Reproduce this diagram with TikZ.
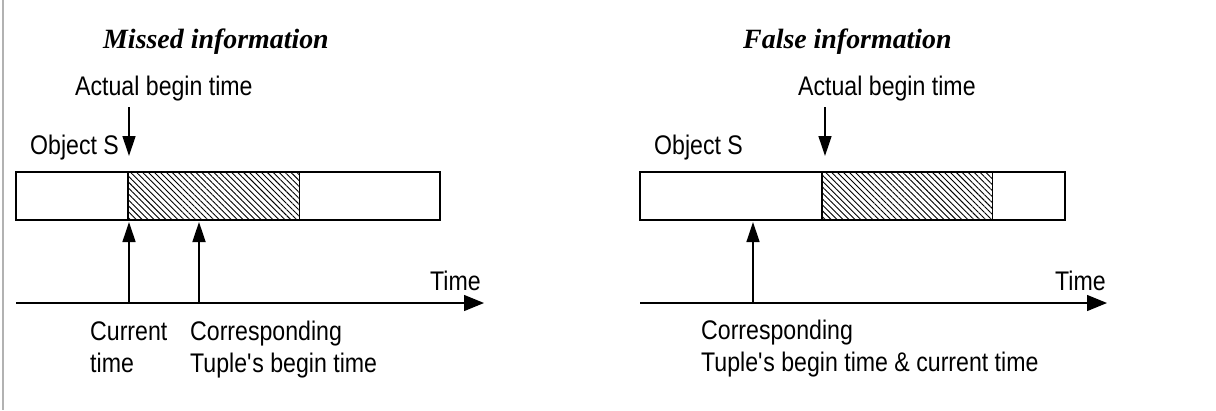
\documentclass[tikz,border=0pt]{standalone}
\usepackage{fontspec}
\setmainfont[FakeStretch=0.86]{Liberation Sans}
\newfontfamily\ttlfamily{Liberation Serif}
\usetikzlibrary{arrows.meta,patterns.meta}
\newcommand\lblfont{\fontsize{27}{32}\selectfont}
\newcommand\ttlfont{\ttlfamily\bfseries\itshape\fontsize{28}{32}\selectfont}

\begin{document}
\begin{tikzpicture}[x=1bp,y=-1bp,>={Triangle[length=20bp,width=13bp]},
  every node/.style={font=\lblfont,inner sep=0pt},
  ttl/.style={font=\ttlfont,anchor=base west},
  lbl/.style={anchor=base west,align=left},
  barline/.style={line width=1.6bp},
  arr/.style={->,line width=1.3bp},
  hatch/.style={pattern={Lines[angle=-45,distance=4.2bp,line width=0.9bp]}}]
\useasboundingbox (0,0) rectangle (1216,410);
\draw[gray!60,line width=1.5bp] (3,0) -- (3,410);

% Missed information
\node[ttl] (ttlA) at (103,48) {Missed information};
\node[lbl] (actA) at (75,95) {Actual begin time};
\node[lbl] (objA) at (30,154) {Object S};
\fill[hatch] (128,172) rectangle (299,220);
\draw[line width=0.8bp] (299,172) -- (299,220);
\draw[barline] (16,172) rectangle (440,220);
\draw[line width=2.2bp] (128,172) -- (128,220);
\coordinate (dA) at (129,107);
\coordinate (dAe) at (129,156);
\draw[arr] (dA) -- (dAe);
\coordinate (axA) at (16,303);
\coordinate (axAe) at (484,303);
\draw[->,line width=1.3bp,>={Triangle[length=20bp,width=16bp]}] (axA) -- (axAe);
\node[lbl] (timeA) at (430,290) {Time};
\coordinate (curA) at (129,303);
\coordinate (curAe) at (129,222);
\draw[arr] (curA) -- (curAe);
\coordinate (tupA) at (199,303);
\coordinate (tupAe) at (199,222);
\draw[arr,line width=1.8bp] (tupA) -- (tupAe);
\node[lbl] (curtxtA) at (90,372) {Current\\time};
\node[lbl] (tuptxtA) at (190,372) {Corresponding\\Tuple\textquotesingle s begin time};

% False information
\node[ttl] (ttlB) at (743,48) {False information};
\node[lbl] (actB) at (798,95) {Actual begin time};
\node[lbl] (objB) at (654,154) {Object S};
\fill[hatch] (822,172) rectangle (992,220);
\draw[line width=0.8bp] (992,172) -- (992,220);
\draw[barline] (640,172) rectangle (1065,220);
\draw[line width=2.2bp] (822,172) -- (822,220);
\coordinate (dB) at (825,107);
\coordinate (dBe) at (825,156);
\draw[arr] (dB) -- (dBe);
\coordinate (axB) at (640,303);
\coordinate (axBe) at (1107,303);
\draw[->,line width=1.3bp,>={Triangle[length=20bp,width=16bp]}] (axB) -- (axBe);
\node[lbl] (timeB) at (1055,290) {Time};
\coordinate (tupB) at (753,303);
\coordinate (tupBe) at (753,222);
\draw[arr] (tupB) -- (tupBe);
\node[lbl] (tuptxtB) at (701,371) {Corresponding\\Tuple\textquotesingle s begin time \& current time};
\end{tikzpicture}
\end{document}
